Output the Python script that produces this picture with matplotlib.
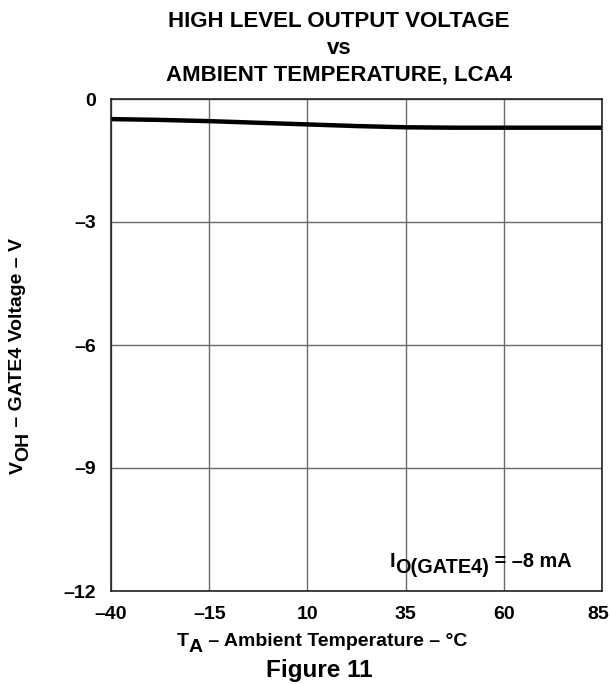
import matplotlib
matplotlib.use('Agg')
from matplotlib import pyplot as plt
from matplotlib.transforms import ScaledTranslation

# ambient temperature (C) and high level output voltage (V)
temps = [-40, -27.5, -15, -2.5, 10, 22.5, 35, 47.5, 60, 72.5, 85]
voh = [-0.49, -0.51, -0.54, -0.58, -0.62, -0.66, -0.69, -0.70, -0.70, -0.70, -0.70]
xticks = [-40, -15, 10, 35, 60, 85]
yticks = [0, -3, -6, -9, -12]

W, H = 611, 684
FS = 14

plt.rcParams['font.family'] = ['Liberation Sans', 'DejaVu Sans']
plt.rcParams['font.weight'] = 'bold'


def px(x, y):
    # pixel position (from top-left) -> figure fraction
    return x / W, 1 - y / H


def chain(fig, pieces, x, y, rotation=0, fs=FS):
    """
    Write text pieces one after another; each piece is (text, shift in points).
    The shift moves a piece off the baseline (subscripts).
    """
    first = fig.text(x, y, pieces[0][0], ha='left',
                     va='baseline' if rotation == 0 else 'bottom',
                     rotation=rotation, fontsize=fs, fontweight='bold')
    texts = [first]
    prev = first
    for s, dy in pieces[1:]:
        if rotation == 0:
            t = plt.annotate(s, xy=(1, 0), xycoords=prev, xytext=(0, dy),
                             textcoords='offset points', ha='left', va='bottom',
                             fontsize=fs, fontweight='bold',
                             annotation_clip=False)
        else:
            t = plt.annotate(s, xy=(0, 1), xycoords=prev, xytext=(-dy, 0),
                             textcoords='offset points', ha='left', va='bottom',
                             rotation=rotation, fontsize=fs, fontweight='bold',
                             annotation_clip=False)
        texts.append(t)
        prev = t
    return texts


fig = plt.figure(figsize=(W / 100, H / 100), dpi=100)
ax = fig.add_axes([111 / W, 1 - 591 / H, 491 / W, 492 / H])

ax.plot(temps, voh, color='black', lw=3.2, solid_capstyle='butt')

ax.set_xlim(-40, 85)
ax.set_ylim(-12, 0)
ax.set_xticks(xticks)
ax.set_yticks(yticks)
ax.set_xticklabels(['\u2013' + str(-t) if t < 0 else str(t) for t in xticks])
ax.set_yticklabels(['0'] + ['\u2013' + str(-t) for t in yticks[1:]])
ax.tick_params(length=0, labelsize=FS, pad=11)
ax.grid(True, color='#6a6a6a', lw=1)
for s in ax.spines.values():
    s.set_color('#222222')
    s.set_linewidth(1.2)

# the last x label sits at the figure edge: nudge it in a little
last = ax.get_xticklabels()[-1]
last.set_transform(last.get_transform() + ScaledTranslation(-4 / 100, 0, fig.dpi_scale_trans))

# title, three lines
for line, base in zip(['HIGH LEVEL OUTPUT VOLTAGE', 'vs', 'AMBIENT TEMPERATURE, LCA4'],
                      [27, 53.5, 80]):
    fig.text(*px(339, base), line, ha='center', va='baseline',
             fontsize=16, fontweight='bold')

fig.text(*px(319, 677), 'Figure 11', ha='center', va='baseline',
         fontsize=17.5, fontweight='bold')

# x label, subscript A
xl = chain(fig, [('T', 0), ('A', -4.5), (' \u2013 Ambient Temperature \u2013 \u00b0C', 4.5)],
           *px(160, 646))
# y label, subscript OH
yl = chain(fig, [('V', 0), ('OH', -4.5), (' \u2013 GATE4 Voltage \u2013 V', 4.5)],
           *px(12, 478), rotation=90)
# test condition
chain(fig, [('I', 0), ('O(GATE4)', -4.5), (' = \u20138 mA', 4.5)],
      *px(390, 567), fs=14.3)

# line up the x label end and the y label centre with the reference
fig.canvas.draw()
r = fig.canvas.get_renderer()
ext = [t.get_window_extent(r) for t in xl]
right = max(e.x1 for e in ext)
x0, y0 = xl[0].get_position()
xl[0].set_position((x0 + (467 - right) / W, y0))

ext = [t.get_window_extent(r) for t in yl]
top, bot = max(e.y1 for e in ext), min(e.y0 for e in ext)
left, rgt = min(e.x0 for e in ext), max(e.x1 for e in ext)
x0, y0 = yl[0].get_position()
yl[0].set_position((x0 + (21 - (left + rgt) / 2) / W,
                    y0 + ((H - 356) - (top + bot) / 2) / H))

fig.savefig('out.png', dpi=100)
